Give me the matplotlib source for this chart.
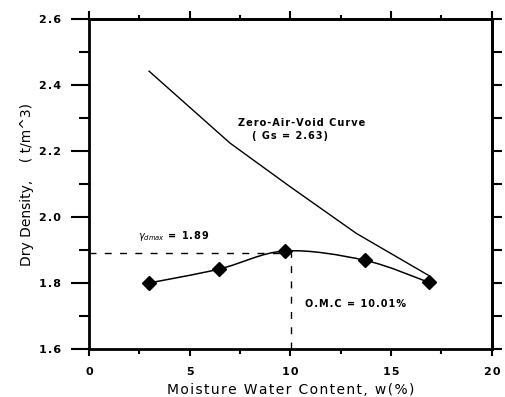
import numpy as np
import matplotlib
matplotlib.use('Agg')
from matplotlib import pyplot as plt
from matplotlib.path import Path
from matplotlib.patches import PathPatch

# compaction test results
water_content = [2.98, 6.45, 9.73, 13.68, 16.87]
dry_density = [1.80, 1.842, 1.897, 1.869, 1.802]

# zero-air-void line (Gs = 2.63)
zav_w = [2.98, 7.0, 9.98, 13.28, 16.83]
zav_density = [2.442, 2.224, 2.092, 1.950, 1.824]

omc = 10.01
gamma_max = 1.89

x_ticks = [0, 5, 10, 15, 20]
y_ticks = [1.6, 1.8, 2.0, 2.2, 2.4, 2.6]

plt.rcParams['font.family'] = ['DejaVu Sans']


def spaced(s):
    # loose letter spacing with hair spaces
    return '\u200a'.join(s)


def smooth_path(xs, ys):
    # catmull-rom segments written as cubic bezier pieces
    pts = np.column_stack([xs, ys])
    verts = [pts[0]]
    codes = [Path.MOVETO]
    n = len(pts)
    for i in range(n - 1):
        p0 = pts[i - 1] if i > 0 else pts[i]
        p1 = pts[i]
        p2 = pts[i + 1]
        p3 = pts[i + 2] if i + 2 < n else pts[i + 1]
        c1 = p1 + (p2 - p0) / 6.0
        c2 = p2 - (p3 - p1) / 6.0
        verts += [c1, c2, p2]
        codes += [Path.CURVE4] * 3
    return Path(verts, codes)


fig = plt.figure(figsize=(5.06, 3.97), dpi=100)
ax = fig.add_axes([0.176, 0.121, 0.796, 0.831])

ax.plot(zav_w, zav_density, color='black', lw=1.0)

curve = PathPatch(smooth_path(water_content, dry_density), facecolor='none',
                  edgecolor='black', lw=1.1)
ax.add_patch(curve)
ax.plot(water_content, dry_density, 'D', color='black', markersize=7)

ax.plot([0, omc], [gamma_max, gamma_max], color='black', lw=1.0, dashes=(5, 6))
ax.plot([omc, omc], [1.6, gamma_max], color='black', lw=1.0, dashes=(5, 6))

txt = dict(fontsize=7, fontweight='bold')
ax.text(7.4, 2.276, spaced('Zero-Air-Void Curve'), **txt)
ax.text(8.1, 2.236, spaced('( Gs = 2.63)'), **txt)
ax.text(2.45, 1.933, r'$\gamma_{dmax}$' + spaced(' = 1.89'), **txt)
ax.text(10.7, 1.727, spaced('O.M.C = 10.01%'), **txt)

ax.set_xlim(0, 20)
ax.set_ylim(1.6, 2.6)
ax.set_xticks(x_ticks)
ax.set_yticks(y_ticks)
ax.set_xticks(np.arange(0, 20.1, 2.5), minor=True)
ax.set_yticks(np.arange(1.6, 2.61, 0.1), minor=True)
ax.set_xticklabels([spaced(str(v)) for v in x_ticks])
ax.set_yticklabels([spaced(f'{v:.1f}') for v in y_ticks])

ax.tick_params(which='both', direction='out', width=1.5, labelsize=8)
ax.tick_params(axis='y', which='major', length=13, pad=7)
ax.tick_params(axis='y', which='minor', length=7)
ax.tick_params(axis='x', which='major', length=5, pad=8)
ax.tick_params(axis='x', which='minor', length=3.5)
for lbl in ax.get_xticklabels() + ax.get_yticklabels():
    lbl.set_fontweight('bold')

# top and right frames carry their own shorter ticks
top = ax.secondary_xaxis('top')
top.set_xticks(x_ticks)
top.set_xticks(np.arange(0, 20.1, 2.5), minor=True)
top.tick_params(which='both', direction='out', width=1.5, labeltop=False)
top.tick_params(which='major', length=6)
top.tick_params(which='minor', length=3)

right = ax.secondary_yaxis('right')
right.set_yticks(y_ticks)
right.set_yticks(np.arange(1.6, 2.61, 0.1), minor=True)
right.tick_params(which='both', direction='out', width=1.5, length=7,
                  labelright=False)

for sp in list(ax.spines.values()) + [top.spines['top'], right.spines['right']]:
    sp.set_linewidth(2)

ax.set_xlabel(spaced('Moisture Water Content, w(%)'), fontsize=10, labelpad=4)
ax.set_ylabel('Dry Density,    ( t/m^3)', fontsize=10, labelpad=4)

plt.savefig('out.png', dpi=100)
